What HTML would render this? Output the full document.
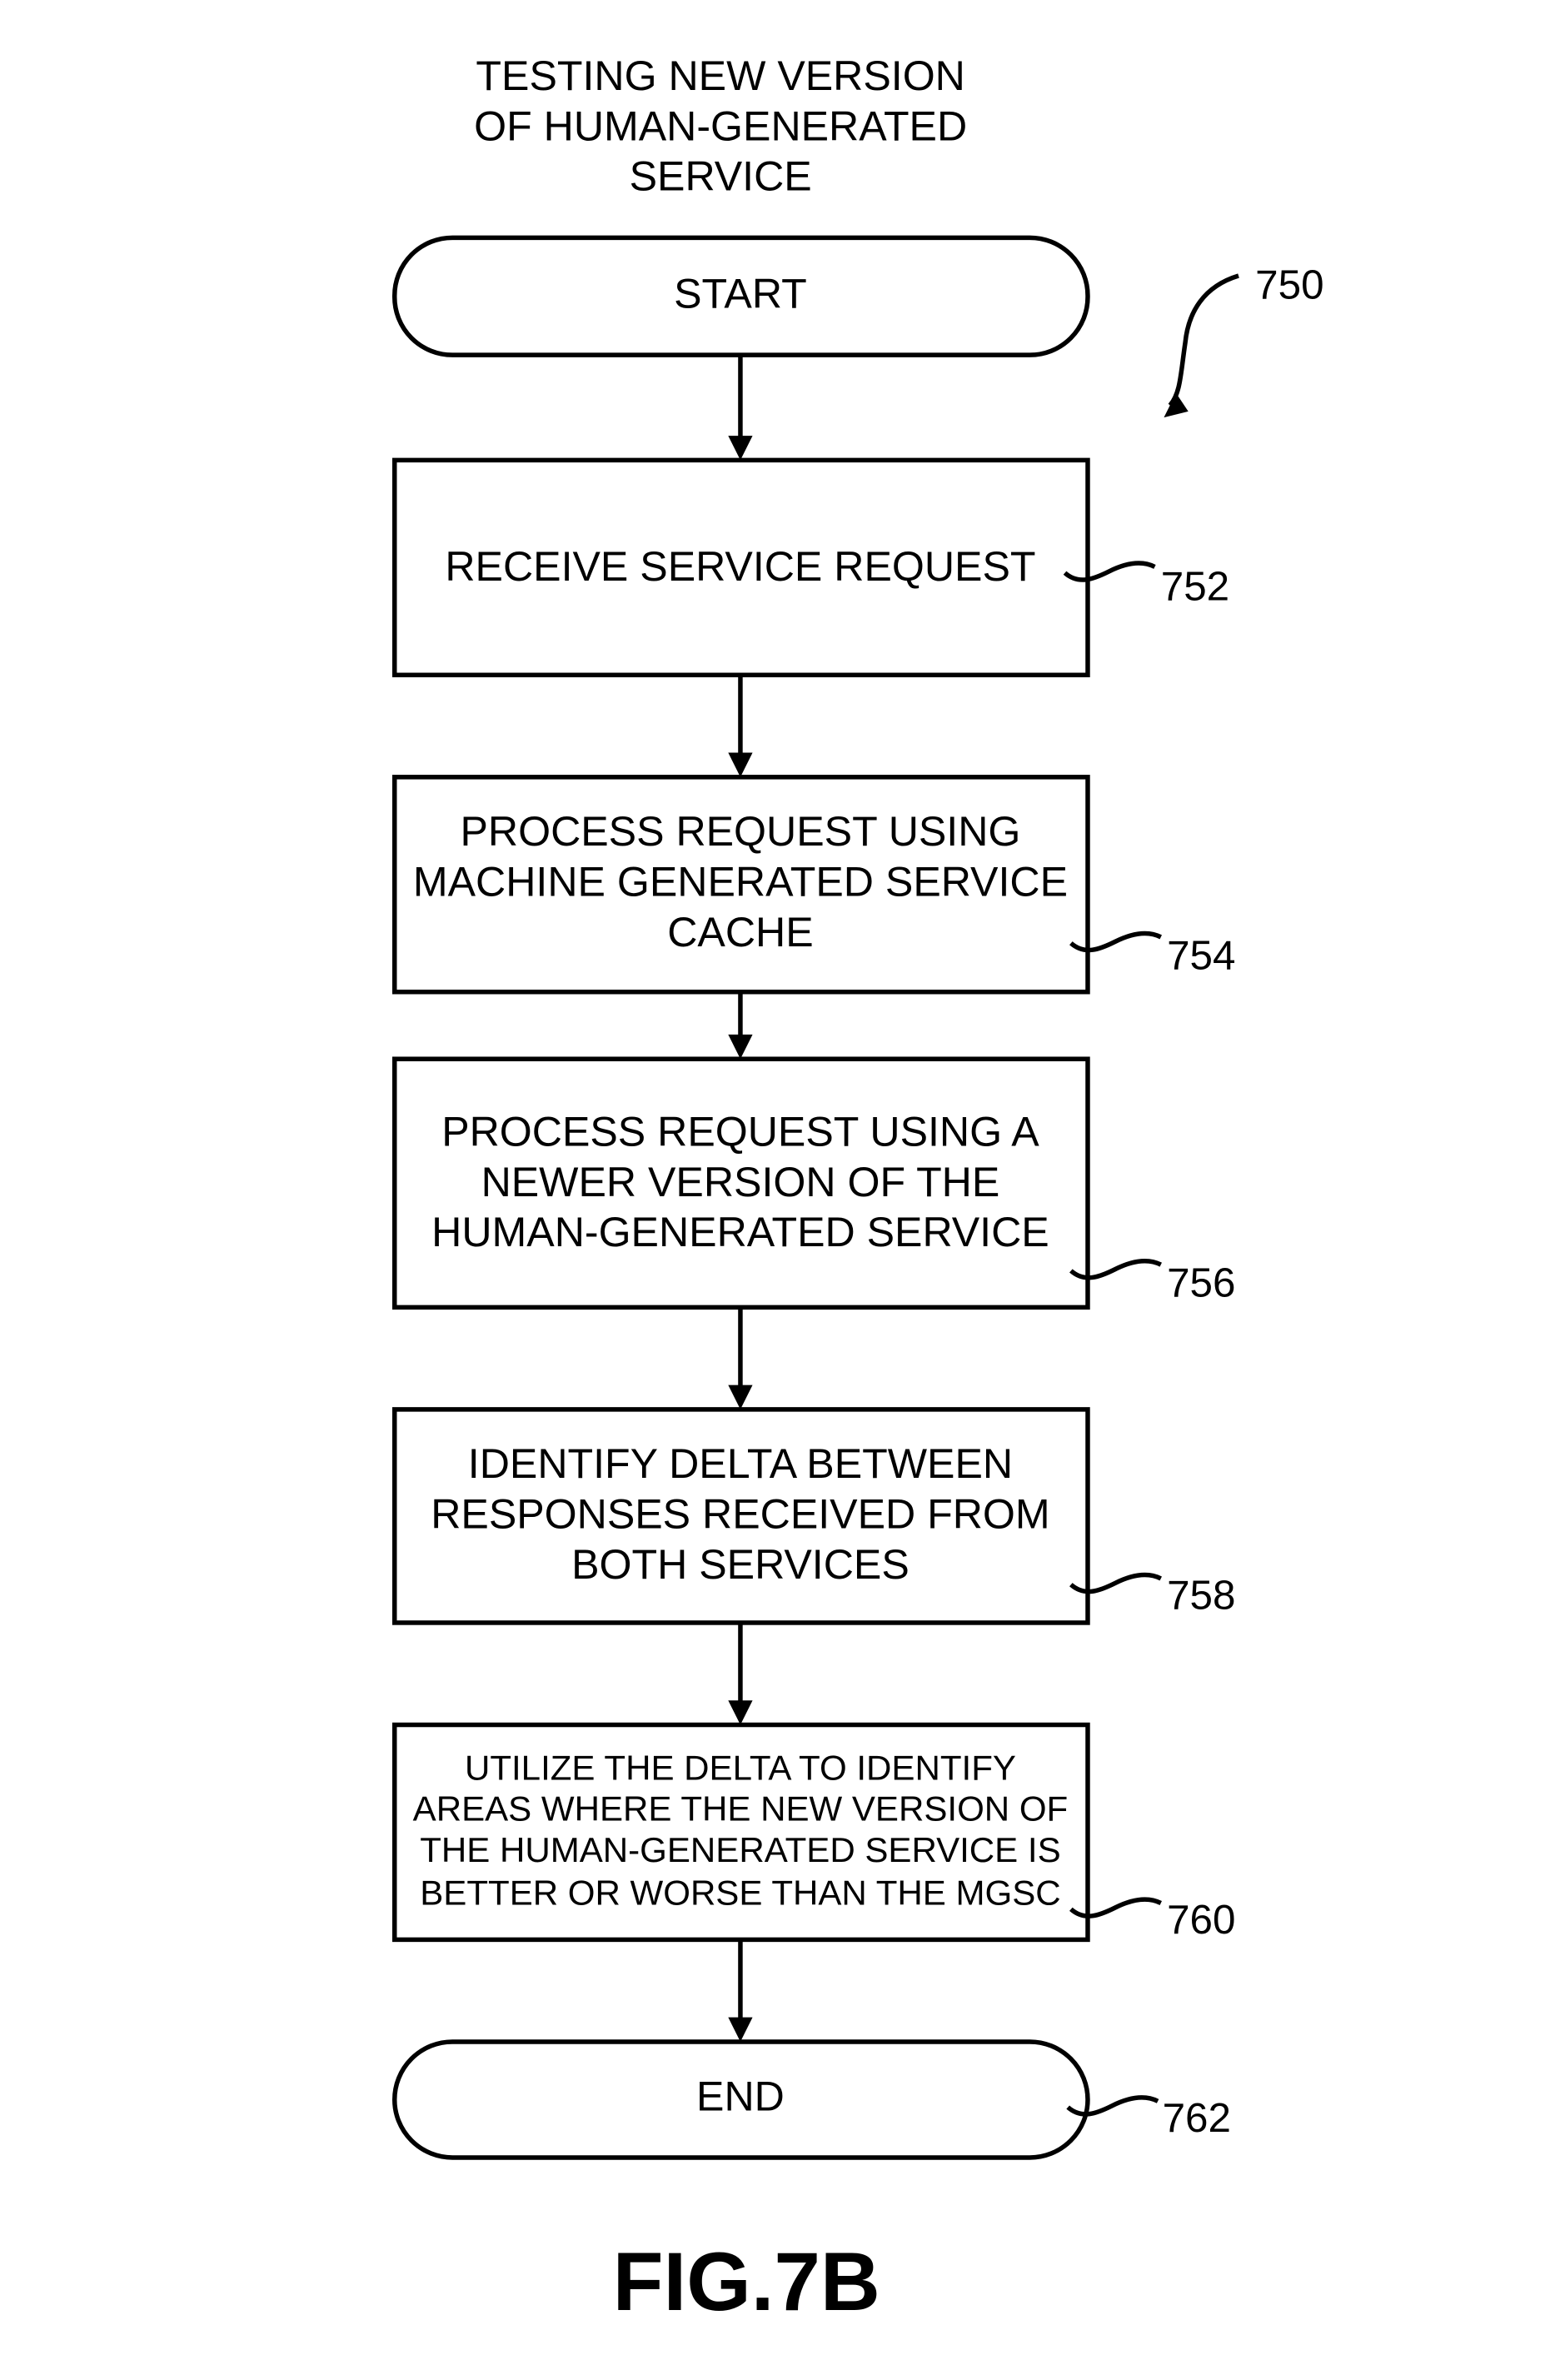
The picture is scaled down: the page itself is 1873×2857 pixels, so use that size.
<!DOCTYPE html>
<html><head><meta charset="utf-8"><style>html,body{margin:0;padding:0;background:#fff}svg{display:block}</style></head><body>
<svg width="1873" height="2857" viewBox="0 0 1024 1562" xmlns="http://www.w3.org/2000/svg" font-family="Liberation Sans, sans-serif">
<g fill="none" stroke="#000" stroke-width="3">
<rect x="259" y="156" width="455" height="77" rx="38"/>
<rect x="259" y="302" width="455" height="141"/>
<rect x="259" y="510" width="455" height="141"/>
<rect x="259" y="695" width="455" height="163"/>
<rect x="259" y="925" width="455" height="140"/>
<rect x="259" y="1132" width="455" height="141"/>
<rect x="259" y="1340" width="455" height="76" rx="38"/>
</g>
<g stroke="#000" stroke-width="3" fill="#000">
<line x1="486" y1="233" x2="486" y2="290"/><path d="M478,286 L486,302 L494,286 Z" stroke="none"/>
<line x1="486" y1="443" x2="486" y2="498"/><path d="M478,494 L486,510 L494,494 Z" stroke="none"/>
<line x1="486" y1="651" x2="486" y2="683"/><path d="M478,679 L486,695 L494,679 Z" stroke="none"/>
<line x1="486" y1="858" x2="486" y2="913"/><path d="M478,909 L486,925 L494,909 Z" stroke="none"/>
<line x1="486" y1="1065" x2="486" y2="1120"/><path d="M478,1116 L486,1132 L494,1116 Z" stroke="none"/>
<line x1="486" y1="1273" x2="486" y2="1328"/><path d="M478,1324 L486,1340 L494,1324 Z" stroke="none"/>
</g>
<g fill="none" stroke="#000" stroke-width="3">
<path d="M813,181 C790,188 780,205 778,225 C775,245 775,258 768,266"/>
<path d="M699,376 C708,384 718,380 728,375 C740,369 750,368 758,372"/>
<path d="M703,619 C712,627 722,623 732,618 C744,612 754,611 762,615"/>
<path d="M703,834 C712,842 722,838 732,833 C744,827 754,826 762,830"/>
<path d="M703,1040 C712,1048 722,1044 732,1039 C744,1033 754,1032 762,1036"/>
<path d="M703,1253 C712,1261 722,1257 732,1252 C744,1246 754,1245 762,1249"/>
<path d="M701,1383 C710,1391 720,1387 730,1382 C742,1376 752,1375 760,1379"/>
</g>
<path d="M764,274 L772,258 L780,270 Z" fill="#000"/>
<g font-size="27.4" text-anchor="middle" fill="#000">
<text x="473" y="59">TESTING NEW VERSION</text>
<text x="473" y="92">OF HUMAN-GENERATED</text>
<text x="473" y="125">SERVICE</text>
<text x="486" y="202">START</text>
<text x="486" y="381">RECEIVE SERVICE REQUEST</text>
<text x="486" y="555">PROCESS REQUEST USING</text>
<text x="486" y="588">MACHINE GENERATED SERVICE</text>
<text x="486" y="621">CACHE</text>
<text x="486" y="752">PROCESS REQUEST USING A</text>
<text x="486" y="785">NEWER VERSION OF THE</text>
<text x="486" y="818">HUMAN-GENERATED SERVICE</text>
<text x="486" y="970">IDENTIFY DELTA BETWEEN</text>
<text x="486" y="1003">RESPONSES RECEIVED FROM</text>
<text x="486" y="1036">BOTH SERVICES</text>
<text x="486" y="1385">END</text>
</g>
<g font-size="23" text-anchor="middle" fill="#000">
<text x="486" y="1168">UTILIZE THE DELTA TO IDENTIFY</text>
<text x="486" y="1195">AREAS WHERE THE NEW VERSION OF</text>
<text x="486" y="1222">THE HUMAN-GENERATED SERVICE IS</text>
<text x="486" y="1250">BETTER OR WORSE THAN THE MGSC</text>
</g>
<g font-size="27" fill="#000">
<text x="824" y="196">750</text>
<text x="762" y="394">752</text>
<text x="766" y="636">754</text>
<text x="766" y="851">756</text>
<text x="766" y="1056">758</text>
<text x="766" y="1269">760</text>
<text x="763" y="1399">762</text>
</g>
<text x="490" y="1516" font-size="54.5" font-weight="bold" text-anchor="middle">FIG.7B</text>
</svg>
</body></html>
